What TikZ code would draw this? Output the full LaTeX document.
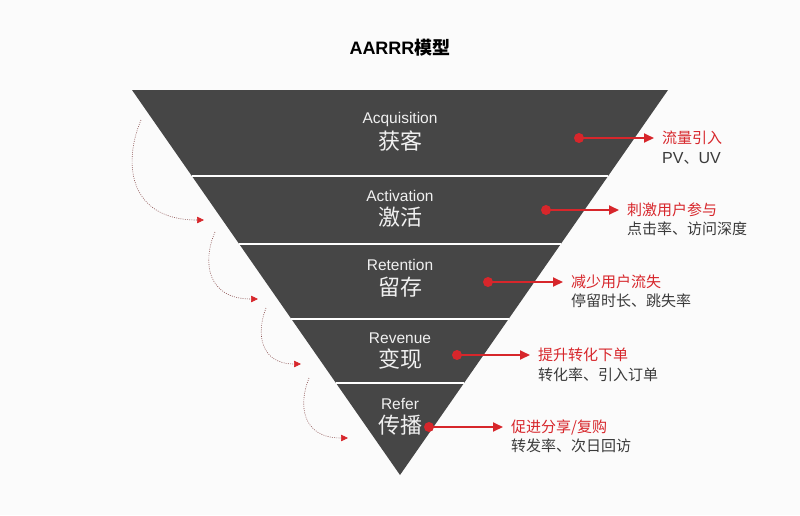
\documentclass[tikz,border=0pt]{standalone}
\usepackage{fontspec}
\setmainfont{Liberation Sans}
\newfontfamily\cjk{Noto Sans CJK SC}
\usetikzlibrary{arrows.meta}
\definecolor{funnel}{HTML}{464646}
\definecolor{accent}{HTML}{D7262B}
\definecolor{subtext}{HTML}{3A3A3A}
\definecolor{curvecol}{HTML}{8A5050}
\definecolor{bg}{HTML}{FBFBFB}
\tikzset{
  eng/.style={text=white!94!black, inner sep=0pt, font=\fontsize{15.5}{17}\selectfont},
  chn/.style={text=white!94!black, inner sep=0pt, font=\cjk\fontsize{22}{24}\selectfont},
  dotnode/.style={circle, fill=accent, minimum size=10pt, inner sep=0pt},
  lbl/.style={anchor=west, inner sep=0pt, text=accent, font=\cjk\fontsize{15}{17}\selectfont},
  sublbl/.style={anchor=west, inner sep=0pt, text=subtext, font=\cjk\fontsize{15}{17}\selectfont},
  conn/.style={accent, line width=1.8pt, -{Triangle[length=10pt,width=9pt]}, shorten >=8pt},
  curvy/.style={curvecol, line width=0.6pt, dash pattern=on 0.9pt off 1.3pt,
    -{Triangle[length=7pt,width=6.5pt,color=accent]}},
  divider/.style={white, line width=1.8pt}
}
\begin{document}
\begin{tikzpicture}[x=1pt,y=-1pt]
\fill[bg] (0,0) rectangle (800,515);
\useasboundingbox (0,0) rectangle (800,515);
% title
\node[inner sep=0pt, font=\bfseries\fontsize{18}{20}\selectfont] (title) at (400,48) {AARRR{\cjk\bfseries 模型}};
% funnel
\fill[funnel] (132,90) -- (668,90) -- (400,475) -- cycle;
\foreach \y in {176,244,319,383}{
  \draw[divider] ({132+0.696*(\y-90)},\y) -- ({668-0.696*(\y-90)},\y);
}
% level texts
\node[eng] (e1) at (400,119) {Acquisition};
\node[chn] (c1) at (400,141) {获客};
\node[eng] (e2) at (400,196) {Activation};
\node[chn] (c2) at (400,217) {激活};
\node[eng] (e3) at (400,265) {Retention};
\node[chn] (c3) at (400,287) {留存};
\node[eng] (e4) at (400,338) {Revenue};
\node[chn] (c4) at (400,359) {变现};
\node[eng] (e5) at (400,404) {Refer};
\node[chn] (c5) at (400,425) {传播};
% right side annotations
\node[dotnode] (d1) at (579,138) {};
\node[lbl] (l1) at (662,138) {流量引入};
\node[sublbl] (s1) at (662,158) {{\fontspec{Liberation Sans}\fontsize{16}{17}\selectfont PV}、{\fontspec{Liberation Sans}\fontsize{16}{17}\selectfont UV}};
\draw[conn] (d1.center) -- (l1.west);

\node[dotnode] (d2) at (546,210) {};
\node[lbl] (l2) at (627,210) {刺激用户参与};
\node[sublbl] (s2) at (627,229) {点击率、访问深度};
\draw[conn] (d2.center) -- (l2.west);

\node[dotnode] (d3) at (488,282) {};
\node[lbl] (l3) at (571,282) {减少用户流失};
\node[sublbl] (s3) at (571,301) {停留时长、跳失率};
\draw[conn] (d3.center) -- (l3.west);

\node[dotnode] (d4) at (457,355) {};
\node[lbl] (l4) at (538,355) {提升转化下单};
\node[sublbl] (s4) at (538,375) {转化率、引入订单};
\draw[conn] (d4.center) -- (l4.west);

\node[dotnode] (d5) at (429,427) {};
\node[lbl] (l5) at (511,427) {促进分享/复购};
\node[sublbl] (s5) at (511,446) {转发率、次日回访};
\draw[conn] (d5.center) -- (l5.west);
% left dotted curves
\coordinate (a1) at (141,120); \coordinate (b1) at (204,220);
\coordinate (a2) at (215,232); \coordinate (b2) at (258,299);
\coordinate (a3) at (266,308); \coordinate (b3) at (301,364);
\coordinate (a4) at (309,378); \coordinate (b4) at (348,438);
\draw[curvy] (a1) .. controls (122,165) and (130,220) .. (b1);
\draw[curvy] (a2) .. controls (202,262) and (207,299) .. (b2);
\draw[curvy] (a3) .. controls (256,333) and (260,364) .. (b3);
\draw[curvy] (a4) .. controls (298,405) and (302,438) .. (b4);
\end{tikzpicture}
\end{document}
